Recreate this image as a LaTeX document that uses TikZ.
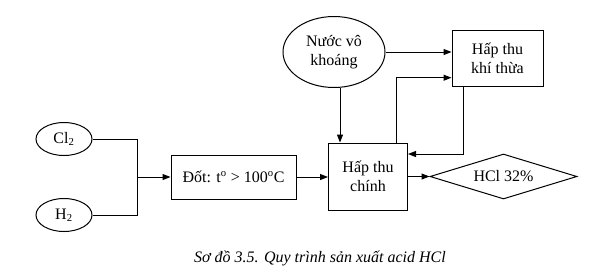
\documentclass[tikz,border=0pt]{standalone}
\usepackage{fontspec}
\setmainfont{Liberation Serif}
\usetikzlibrary{shapes.geometric,arrows.meta,calc}
\begin{document}
\begin{tikzpicture}[x=0.75pt,y=-0.75pt,
  every node/.style={font=\fontsize{12}{14}\selectfont, align=center, inner sep=0pt},
  oval/.style={draw, ellipse},
  box/.style={draw, rectangle},
  arr/.style={-{Triangle[length=6pt,width=4.5pt]}},
  line width=0.75pt]
\useasboundingbox (0,0) rectangle (594,273);
\node[oval, minimum width=42pt, minimum height=24.75pt] (cl) at (64,139) {Cl\textsubscript{2}};
\node[oval, minimum width=42pt, minimum height=24.75pt] (h) at (64,215) {H\textsubscript{2}};
\node[box, minimum width=93.75pt, minimum height=33pt] (dot) at (233.5,177) {Đốt: t\textsuperscript{o} > 100\textsuperscript{o}C};
\node[box, minimum width=59.25pt, minimum height=50.25pt] (chinh) at (368,176.5) {Hấp thu\\chính};
\node[oval, minimum width=76.5pt, minimum height=53.25pt] (nuoc) at (334,52) {Nước vô\\khoáng};
\node[box, minimum width=68.25pt, minimum height=42pt] (khi) at (497.5,58.5) {Hấp thu\\khí thừa};
\node[draw, diamond, aspect=3.27, minimum width=110.25pt, minimum height=33.75pt] (hcl) at (503.5,176.5) {HCl 32\%};
\node[font=\fontsize{12}{14}\selectfont\itshape] (cap) at (320,258) {Sơ đồ 3.5. Quy trình sản xuất acid HCl};
\coordinate (j) at (137,177);
\draw (cl.east) -| (j);
\draw (h.east) -| (j);
\draw[arr] (j) -- (dot.west);
\draw[arr] (dot.east) -- (dot.east -| chinh.west);
\coordinate (nb) at ($(nuoc.south)+(6,0)$);
\draw[arr] (nb) -- (nb |- chinh.north);
\draw[arr] (nuoc.east) -- (nuoc.east -| khi.west);
\coordinate (ct) at ($(chinh.north)+(28,0)$);
\coordinate (ku) at ($(khi.west)+(0,19.2)$);
\draw[arr] (ct) |- (ku);
\coordinate (kb) at ($(khi.south)+(-34.5,0)$);
\coordinate (cr) at ($(chinh.east)+(0,-22.5)$);
\draw[arr] (kb) |- (cr);
\draw[arr] (chinh.east) -- (hcl.west);
\end{tikzpicture}
\end{document}
